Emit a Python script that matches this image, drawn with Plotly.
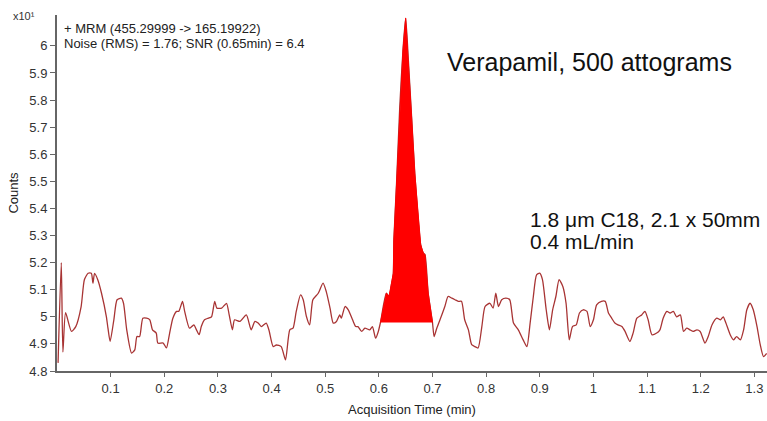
import plotly.graph_objects as go

# Acquisition time (min) and counts (x10^1)
time_min = [
    0.002, 0.008, 0.011, 0.016, 0.027, 0.035, 0.045, 0.051, 0.058, 0.064,
    0.067, 0.070, 0.076, 0.083, 0.092, 0.095, 0.099, 0.106, 0.112, 0.120,
    0.124, 0.130, 0.139, 0.145, 0.149, 0.154, 0.160, 0.167, 0.173, 0.178,
    0.185, 0.188, 0.198, 0.204, 0.210, 0.216, 0.223, 0.227, 0.234, 0.238,
    0.247, 0.255, 0.260, 0.265, 0.269, 0.275, 0.282, 0.288, 0.294, 0.298,
    0.307, 0.316, 0.321, 0.327, 0.331, 0.341, 0.353, 0.362, 0.369, 0.375,
    0.381, 0.390, 0.395, 0.403, 0.409, 0.418, 0.426, 0.434, 0.440, 0.446,
    0.454, 0.459, 0.465, 0.471, 0.477, 0.487, 0.496, 0.502, 0.509, 0.515,
    0.521, 0.527, 0.530, 0.537, 0.543, 0.551, 0.557, 0.561, 0.568, 0.574,
    0.583, 0.588, 0.594, 0.599,
    0.603, 0.614, 0.619, 0.624, 0.627, 0.628, 0.633, 0.639, 0.645, 0.650,
    0.655, 0.661, 0.667, 0.673, 0.678, 0.683, 0.686, 0.692, 0.700,
    0.703, 0.708, 0.714, 0.723, 0.729, 0.736, 0.742, 0.748, 0.754, 0.760,
    0.767, 0.773, 0.779, 0.785, 0.792, 0.798, 0.807, 0.813, 0.818, 0.823,
    0.829, 0.837, 0.844, 0.851, 0.860, 0.869, 0.876, 0.882, 0.888, 0.894,
    0.900, 0.905, 0.912, 0.918, 0.924, 0.930, 0.936, 0.943, 0.949, 0.955,
    0.961, 0.968, 0.974, 0.981, 0.988, 0.994, 1.000, 1.006, 1.015, 1.022,
    1.028, 1.034, 1.040, 1.046, 1.053, 1.059, 1.068, 1.074, 1.081, 1.090,
    1.096, 1.102, 1.109, 1.118, 1.124, 1.130, 1.137, 1.143, 1.149, 1.155,
    1.162, 1.168, 1.174, 1.180, 1.186, 1.193, 1.199, 1.208, 1.214, 1.221,
    1.230, 1.237, 1.242, 1.247, 1.255, 1.261, 1.267, 1.274, 1.280, 1.286,
    1.292, 1.298, 1.305, 1.311, 1.317, 1.323,
]
counts = [
    4.830, 5.200, 4.870, 5.015, 4.946, 4.964, 5.038, 5.137, 5.161, 5.161,
    5.124, 5.160, 5.137, 5.087, 5.001, 4.958, 4.909, 4.989, 5.063, 5.069,
    5.050, 4.952, 4.866, 4.878, 4.927, 4.927, 4.995, 4.995, 4.989, 4.952,
    4.940, 4.903, 4.903, 4.885, 4.940, 4.995, 5.020, 5.020, 5.057, 5.020,
    4.958, 4.970, 4.952, 4.934, 4.964, 4.989, 4.995, 5.000, 5.057, 5.032,
    5.032, 5.050, 5.007, 4.952, 4.989, 4.983, 5.007, 4.952, 4.983, 4.977,
    4.964, 4.977, 4.952, 4.890, 4.896, 4.890, 4.841, 4.952, 4.958, 5.020,
    5.081, 5.063, 5.001, 4.970, 5.063, 5.087, 5.124, 5.093, 5.032, 4.977,
    4.983, 5.007, 4.995, 5.038, 5.026, 4.989, 4.964, 4.964, 4.946, 4.958,
    4.952, 4.964, 4.921, 4.946,
    4.979, 5.087, 5.076, 5.124, 5.161, 5.284, 5.493, 5.776, 5.985, 6.102,
    5.948, 5.739, 5.530, 5.370, 5.266, 5.235, 5.230, 5.087, 4.979,
    4.927, 4.958, 4.989, 5.038, 5.075, 5.069, 5.063, 5.057, 5.057, 4.989,
    4.952, 4.897, 4.890, 4.885, 4.964, 5.038, 5.050, 5.032, 5.087, 5.038,
    5.063, 5.069, 5.063, 4.977, 4.952, 4.915, 4.890, 4.977, 5.075, 5.155,
    5.161, 5.137, 5.026, 4.952, 5.026, 5.075, 5.137, 5.112, 5.050, 4.915,
    4.964, 4.970, 5.014, 5.026, 5.020, 4.964, 4.989, 5.044, 5.057, 5.057,
    5.014, 4.995, 4.977, 4.970, 4.964, 4.946, 4.909, 4.940, 4.995, 5.007,
    5.020, 4.989, 4.934, 4.940, 4.952, 4.995, 5.020, 5.014, 5.020, 5.000,
    5.007, 4.946, 4.958, 4.952, 4.946, 4.952, 4.946, 4.903, 4.927, 4.970,
    4.995, 4.989, 5.000, 4.977, 4.934, 4.915, 4.927, 4.915, 4.952, 5.026,
    5.050, 5.026, 4.964, 4.897, 4.853, 4.865,
]

# integrated peak window (min)
peak_start = 0.603
peak_end = 0.700

y_tick_vals = [4.8, 4.9, 5.0, 5.1, 5.2, 5.3, 5.4, 5.5, 5.6, 5.7, 5.8, 5.9, 6.0]
y_tick_text = ["4.8", "4.9", "5", "5.1", "5.2", "5.3", "5.4", "5.5", "5.6",
               "5.7", "5.8", "5.9", "6"]
x_tick_vals = [0.1, 0.2, 0.3, 0.4, 0.5, 0.6, 0.7, 0.8, 0.9, 1.0, 1.1, 1.2, 1.3]
x_tick_text = ["0.1", "0.2", "0.3", "0.4", "0.5", "0.6", "0.7", "0.8", "0.9",
               "1", "1.1", "1.2", "1.3"]

peak_t = [t for t in time_min if peak_start <= t <= peak_end]
peak_c = [c for t, c in zip(time_min, counts) if peak_start <= t <= peak_end]

FONT = "Liberation Sans, Arial, sans-serif"

fig = go.Figure()
fig.add_trace(go.Scatter(
    x=time_min, y=counts, mode="lines",
    line=dict(color="#a83434", width=1.3, shape="spline", smoothing=0.6),
    hoverinfo="x+y", showlegend=False,
))
fig.add_trace(go.Scatter(
    x=peak_t, y=peak_c, mode="lines", fill="toself",
    fillcolor="#ff0000", line=dict(color="#ff0000", width=1),
    showlegend=False,
))

fig.update_layout(
    width=767, height=421,
    margin=dict(l=57, r=0, t=15, b=50),
    paper_bgcolor="white", plot_bgcolor="white",
    font=dict(family=FONT, color="#222"),
    xaxis=dict(
        range=[0, 1.3236], tickvals=x_tick_vals, ticktext=x_tick_text,
        showgrid=False, zeroline=False,
        showline=True, linecolor="#666", linewidth=2,
        ticks="outside", ticklen=4, tickcolor="#666", tickwidth=1,
        tickfont=dict(size=13, color="#333"),
        title=dict(text="Acquisition Time (min)", font=dict(size=13, color="#222"),
                   standoff=10),
    ),
    yaxis=dict(
        range=[4.8, 6.114], tickvals=y_tick_vals, ticktext=y_tick_text,
        showgrid=False, zeroline=False,
        showline=True, linecolor="#666", linewidth=2,
        ticks="outside", ticklen=5, tickcolor="#666", tickwidth=1,
        tickfont=dict(size=13, color="#333"),
        title=dict(text="Counts", font=dict(size=13, color="#222"), standoff=8),
    ),
)

annotations = [
    dict(text="x10\u00b9", x=-0.028, y=0.997, xanchor="right", yanchor="middle",
         font=dict(size=11, color="#333")),
    dict(text="+ MRM (455.29999 -> 165.19922)", x=0.007, y=0.961,
         xanchor="left", yanchor="middle", font=dict(size=13, color="#222")),
    dict(text="Noise (RMS) = 1.76; SNR (0.65min) = 6.4", x=0.007, y=0.919,
         xanchor="left", yanchor="middle", font=dict(size=13, color="#222")),
    dict(text="Verapamil, 500 attograms", x=(445 - 57) / 710, y=(371 - 62) / 356,
         xanchor="left", yanchor="middle", font=dict(size=25, color="#111")),
    dict(text="1.8 \u03bcm C18, 2.1 x 50mm", x=(528 - 57) / 710, y=(371 - 219) / 356,
         xanchor="left", yanchor="middle", font=dict(size=21, color="#111")),
    dict(text="0.4 mL/min", x=(528 - 57) / 710, y=(371 - 241) / 356,
         xanchor="left", yanchor="middle", font=dict(size=21, color="#111")),
]
for a in annotations:
    a.update(xref="paper", yref="paper", showarrow=False)
fig.update_layout(annotations=annotations)

fig.write_html("out.html")
